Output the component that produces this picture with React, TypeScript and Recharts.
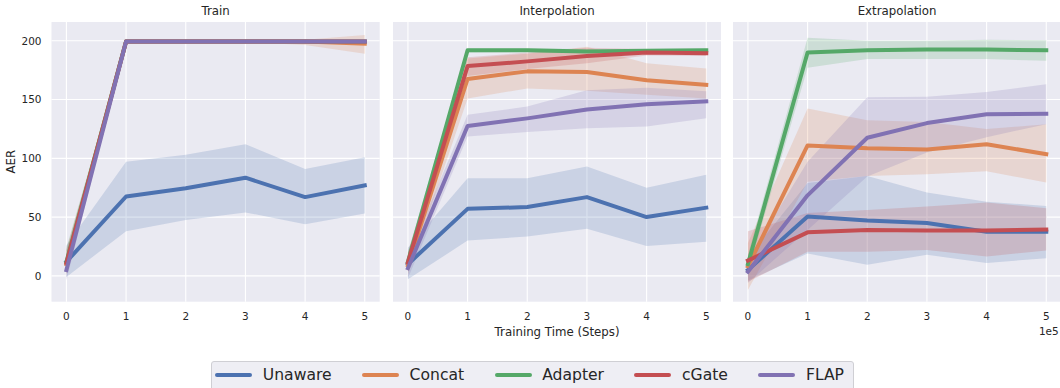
import { Area, CartesianGrid, ComposedChart, Legend, Line, XAxis, YAxis } from 'recharts';

const steps = [0, 1, 2, 3, 4, 5];
const methods = ['Unaware', 'Concat', 'Adapter', 'cGate', 'FLAP'];
const colors = ['#4C72B0', '#DD8452', '#55A868', '#C44E52', '#8172B3'];
const yTicks = [0, 50, 100, 150, 200];

// rows follow `methods`, one value per checkpoint (x 1e5 steps)
const trainMean = [
  [12, 67.5, 74.5, 83.5, 67, 77],
  [10, 199.5, 199.5, 199.5, 199.5, 197.5],
  [12, 199.5, 199.5, 199.5, 199.5, 199.5],
  [11, 199.5, 199.5, 199.5, 199.5, 199.5],
  [5, 199.5, 199.5, 199.5, 199.5, 199.5],
];
const trainLow = [
  [-1, 38, 47.5, 54, 44, 53],
  [0, 199, 199, 199, 196.5, 189],
  [3, 199, 199, 199, 199, 199],
  [2, 199, 199, 199, 199, 199],
  [-4, 199, 199, 199, 199, 199],
];
const trainHigh = [
  [26, 97, 103, 112, 91, 101],
  [22, 200, 200, 200, 201, 205],
  [24, 200, 200, 200, 200, 200],
  [22, 200, 200, 200, 200, 200],
  [16, 200, 200, 200, 200, 200],
];

const interpMean = [
  [10, 57, 58.5, 67, 50, 58],
  [9, 167.5, 174, 173.5, 166.5, 162.5],
  [12, 192, 192, 191, 191.5, 192],
  [11.5, 178.5, 182.5, 187, 190, 189.5],
  [6.5, 127.5, 134, 141.5, 146, 148.5],
];
const interpLow = [
  [-3, 30, 33.5, 40, 25.5, 29],
  [1, 151, 159.5, 157.5, 154, 151],
  [5, 190, 190.5, 189.5, 190, 190.5],
  [4, 170, 176, 181, 187.5, 187],
  [-2, 118.5, 122.5, 125.5, 127, 134],
];
const interpHigh = [
  [24, 83, 83, 93, 75, 86],
  [19, 185, 189, 195, 181, 176.5],
  [20, 193.5, 193.5, 193, 193, 193.5],
  [20, 186, 190, 194, 193, 192],
  [16, 137, 144, 158, 160, 157],
];

const extrapMean = [
  [5, 50.5, 47, 45, 37.5, 37.5],
  [8, 111, 108.5, 107.5, 112, 103.5],
  [10, 190, 192, 192.5, 192.5, 192],
  [13, 37, 39, 38.5, 38.5, 39.5],
  [3.5, 68.5, 117.5, 130, 137.5, 138],
];
const extrapLow = [
  [-4, 19, 9.5, 18, 11, 15],
  [-12, 80, 85, 86.5, 89, 79.5],
  [3, 177, 184.5, 184.5, 184.5, 183],
  [-5, 20.5, 20.5, 22, 16.5, 21.5],
  [-6, 39, 84.5, 105, 118, 129],
];
const extrapHigh = [
  [16, 79, 85, 71, 63, 59.5],
  [28, 142.5, 132.5, 131, 125, 129],
  [18, 202.5, 200, 200, 201, 200.5],
  [38, 53.5, 56, 59, 62.5, 57.5],
  [14, 97, 152, 152.5, 156.5, 163],
];

const TEXT = '#262626';
const H = 388;
const PLOT_W = 328.2;
const Y_AXIS_W = 51.5;

const buildRows = (mean: number[][], low: number[][], high: number[][]) =>
  steps.map((step, i) => {
    const row: Record<string, any> = { step };
    methods.forEach((_, k) => {
      row[`m${k}`] = mean[k][i];
      row[`b${k}`] = [low[k][i], high[k][i]];
    });
    return row;
  });

const LegendBox = () => (
  <div
    style={{
      display: 'flex',
      alignItems: 'center',
      boxSizing: 'border-box',
      width: 643.5,
      height: 40,
      paddingLeft: 3.5,
      paddingBottom: 11,
      background: '#EEEEF4',
      border: '1px solid #cfcfd4',
      borderRadius: 3,
      fontSize: 15.6,
      color: TEXT,
    }}
  >
    {methods.map((name, k) => (
      <div key={name} style={{ display: 'flex', alignItems: 'center', marginRight: 30.4 }}>
        <span style={{ width: 37, height: 4.6, background: colors[k], borderRadius: 2.3, marginRight: 10.6 }} />
        <span style={{ whiteSpace: 'nowrap' }}>{name}</span>
      </div>
    ))}
  </div>
);

type PanelProps = {
  title: string;
  rows: Record<string, any>[];
  left: number;
  withYAxis?: boolean;
  withLegend?: boolean;
  xLabel?: string;
  offsetText?: string;
};

const Panel = ({ title, rows, left, withYAxis, withLegend, xLabel, offsetText }: PanelProps) => {
  const yw = withYAxis ? Y_AXIS_W : 0;
  const mid = yw + PLOT_W / 2;
  return (
    <div style={{ position: 'absolute', left, top: 0 }}>
      <ComposedChart width={yw + PLOT_W} height={H} data={rows} margin={{ top: 22, right: 0, left: 0, bottom: 56.3 }}>
        <CartesianGrid
          fill="#EAEAF2"
          fillOpacity={1}
          stroke="#ffffff"
          strokeWidth={1.1}
          horizontalValues={yTicks}
          verticalValues={steps}
        />
        <XAxis
          type="number"
          dataKey="step"
          domain={[-0.25, 5.25]}
          ticks={steps}
          axisLine={false}
          tickLine={false}
          tickSize={9}
          tickMargin={2.3}
          height={30}
          tick={{ fill: TEXT, fontSize: 10.5 }}
        />
        <YAxis
          type="number"
          domain={[-22, 216]}
          ticks={yTicks}
          hide={!withYAxis}
          width={yw}
          axisLine={false}
          tickLine={false}
          tickSize={8}
          tickMargin={2}
          tick={{ fill: TEXT, fontSize: 10.5 }}
        />
        {methods.map((name, k) => (
          <Area
            key={`band-${name}`}
            type="linear"
            dataKey={`b${k}`}
            stroke="none"
            fill={colors[k]}
            fillOpacity={0.2}
            isAnimationActive={false}
            legendType="none"
          />
        ))}
        {methods.map((name, k) => (
          <Line
            key={`line-${name}`}
            type="linear"
            dataKey={`m${k}`}
            name={name}
            stroke={colors[k]}
            strokeWidth={4}
            strokeLinejoin="round"
            strokeLinecap="square"
            dot={false}
            activeDot={false}
            isAnimationActive={false}
          />
        ))}
        {withLegend && (
          <Legend
            layout="horizontal"
            verticalAlign="middle"
            align="center"
            width={643.5}
            wrapperStyle={{ left: 210.7, top: 360.7 }}
            content={() => <LegendBox />}
          />
        )}
        <text x={mid} y={15.2} textAnchor="middle" fill={TEXT} fontSize={11.8}>
          {title}
        </text>
        {withYAxis && (
          <text transform="rotate(-90)" x={-161.7} y={15} textAnchor="middle" fill={TEXT} fontSize={11.8}>
            AER
          </text>
        )}
        {xLabel && (
          <text x={mid} y={336.3} textAnchor="middle" fill={TEXT} fontSize={11.8}>
            {xLabel}
          </text>
        )}
        {offsetText && (
          <text x={yw + PLOT_W - 2.5} y={335.5} textAnchor="end" fill={TEXT} fontSize={10.5}>
            {offsetText}
          </text>
        )}
      </ComposedChart>
    </div>
  );
};

export default function App() {
  return (
    <div
      style={{
        position: 'absolute',
        left: 0,
        top: 0,
        width: 1060,
        height: H,
        overflow: 'hidden',
        background: '#ffffff',
        fontFamily: '"DejaVu Sans", sans-serif',
      }}
    >
      <Panel title="Train" rows={buildRows(trainMean, trainLow, trainHigh)} left={0} withYAxis withLegend />
      <Panel
        title="Interpolation"
        rows={buildRows(interpMean, interpLow, interpHigh)}
        left={392.5}
        xLabel="Training Time (Steps)"
      />
      <Panel
        title="Extrapolation"
        rows={buildRows(extrapMean, extrapLow, extrapHigh)}
        left={733.3}
        offsetText="1e5"
      />
    </div>
  );
}
